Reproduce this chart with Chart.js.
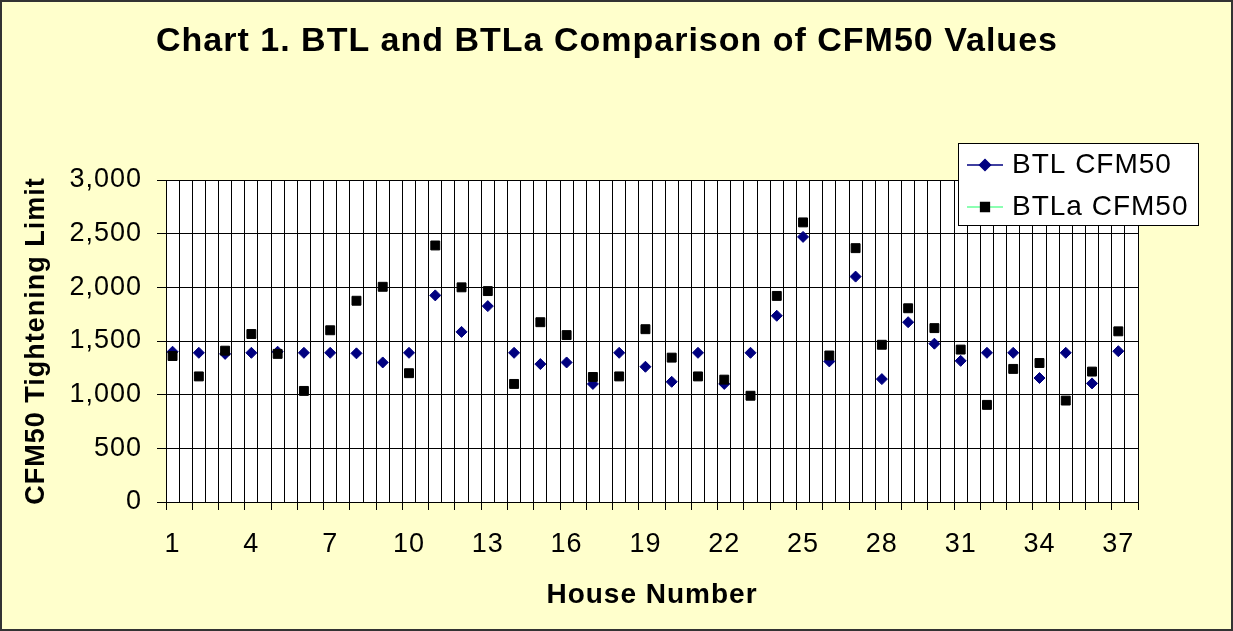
<!DOCTYPE html>
<html>
<head>
<meta charset="utf-8">
<script src="https://cdn.jsdelivr.net/npm/chart.js@4.4.1/dist/chart.umd.min.js"></script>
<style>
  html, body { margin: 0; padding: 0; background: #ffffcc; }
  canvas { display: block; }
</style>
</head>
<body>
<canvas id="cfmChart" width="1233" height="631"></canvas>
<script>
// house numbers on the x axis
const houses = [1, 2, 3, 4, 5, 6, 7, 8, 9, 10, 11, 12, 13, 14, 15, 16, 17, 18, 19,
  20, 21, 22, 23, 24, 25, 26, 27, 28, 29, 30, 31, 32, 33, 34, 35, 36, 37];

// CFM50 values
const btlCfm50 = [1400, 1390, 1380, 1390, 1400, 1390, 1390, 1385, 1300, 1390,
  1925, 1585, 1825, 1390, 1285, 1300, 1100, 1390, 1260, 1120,
  1390, 1100, 1390, 1735, 2470, 1310, 2100, 1145, 1675, 1475,
  1315, 1390, 1390, 1155, 1390, 1105, 1405];
const btlaCfm50 = [1360, 1170, 1410, 1565, 1380, 1035, 1600, 1875, 2005, 1200,
  2390, 2000, 1965, 1100, 1675, 1555, 1165, 1170, 1610, 1345,
  1170, 1140, 990, 1920, 2605, 1365, 2365, 1465, 1805, 1620,
  1420, 905, 1240, 1295, 945, 1215, 1590];

// labelled x ticks and y ticks
const xTickLabels = [1, 4, 7, 10, 13, 16, 19, 22, 25, 28, 31, 34, 37];
const yTicks = [0, 500, 1000, 1500, 2000, 2500, 3000];

const chartTitle = 'Chart 1. BTL and BTLa Comparison of CFM50 Values';

const FONT = "'Liberation Sans', Arial, sans-serif";
Chart.defaults.font.family = FONT;
Chart.defaults.color = '#000';

const xMin = houses[0] - 0.25;
const xMax = houses[houses.length - 1] + 0.75;
const isBoundary = v => Math.abs((v - xMin) % 1) < 1e-6;

// page background, plot background, outer border
const backdrop = {
  id: 'backdrop',
  beforeDraw(chart) {
    const { ctx, chartArea: a, width, height } = chart;
    ctx.save();
    ctx.fillStyle = '#ffffcc';
    ctx.fillRect(0, 0, width, height);
    ctx.fillStyle = '#ffffff';
    ctx.fillRect(a.left, a.top, a.right - a.left, a.bottom - a.top);
    ctx.strokeStyle = '#333';
    ctx.lineWidth = 2;
    ctx.strokeRect(1, 1, width - 2, height - 2);
    ctx.restore();
    ctx.letterSpacing = '1px';
  }
};

// title sits centred on the whole chart object, not on the plot
const excelTitle = {
  id: 'excelTitle',
  afterDraw(chart) {
    const { ctx } = chart;
    ctx.save();
    ctx.font = 'bold 34px ' + FONT;
    ctx.fillStyle = '#000';
    ctx.textAlign = 'center';
    ctx.textBaseline = 'middle';
    ctx.fillText(chartTitle, 607, 42);
    ctx.restore();
  }
};

// Excel style legend: line + marker, sitting over the top right of the plot
const excelLegend = {
  id: 'excelLegend',
  afterDraw(chart) {
    const { ctx, chartArea: a } = chart;
    const bx = a.right - 180, by = a.top - 37, bw = 240, bh = 82;
    ctx.save();
    ctx.fillStyle = '#fff';
    ctx.fillRect(bx, by, bw, bh);
    ctx.strokeStyle = '#000';
    ctx.lineWidth = 1;
    ctx.strokeRect(bx + 0.5, by + 0.5, bw, bh);
    const rows = [
      { text: 'BTL CFM50', line: '#000080', style: 'rectRot', radius: 5.5, fill: '#000080' },
      { text: 'BTLa CFM50', line: '#66ff99', style: 'rect', radius: 6.2, fill: '#000' }
    ];
    rows.forEach((r, i) => {
      const y = by + 22 + i * 42;
      ctx.strokeStyle = r.line;
      ctx.lineWidth = 1.5;
      ctx.beginPath();
      ctx.moveTo(bx + 9, y);
      ctx.lineTo(bx + 45, y);
      ctx.stroke();
      ctx.fillStyle = r.fill;
      ctx.strokeStyle = r.fill;
      Chart.helpers.drawPoint(ctx, { pointStyle: r.style, radius: r.radius, rotation: 0, borderWidth: 1 }, bx + 27, y);
      ctx.fillStyle = '#000';
      ctx.font = '28px ' + FONT;
      ctx.textBaseline = 'middle';
      ctx.textAlign = 'left';
      ctx.fillText(r.text, bx + 54, y);
    });
    ctx.restore();
  }
};

new Chart(document.getElementById('cfmChart'), {
  type: 'scatter',
  data: {
    datasets: [
      {
        label: 'BTL CFM50',
        data: houses.map((h, i) => ({ x: h, y: btlCfm50[i] })),
        pointStyle: 'rectRot',
        pointRadius: 5.5,
        pointBorderWidth: 1,
        backgroundColor: '#000080',
        borderColor: '#000080',
        order: 2
      },
      {
        label: 'BTLa CFM50',
        data: houses.map((h, i) => ({ x: h, y: btlaCfm50[i] })),
        pointStyle: 'rect',
        pointRadius: 6.3,
        pointBorderWidth: 1,
        backgroundColor: '#000',
        borderColor: '#000',
        order: 1
      }
    ]
  },
  options: {
    responsive: false,
    animation: false,
    devicePixelRatio: 1,
    layout: { padding: { left: 16, right: 95, top: 180, bottom: 15 } },
    plugins: {
      legend: { display: false },
      tooltip: { enabled: false },
      title: { display: false }
    },
    scales: {
      x: {
        type: 'linear',
        min: xMin,
        max: xMax,
        afterBuildTicks(scale) {
          const vals = [];
          for (let v = xMin; v <= xMax + 1e-9; v += 0.5) vals.push(v);
          xTickLabels.forEach(v => vals.push(v));
          vals.sort((p, q) => p - q);
          scale.ticks = vals.map(v => ({ value: v }));
        },
        afterFit(scale) { scale.height = 114; },
        ticks: {
          autoSkip: false,
          maxRotation: 0,
          padding: 18,
          font: { size: 27 },
          callback: v => xTickLabels.includes(v) ? String(v) : ''
        },
        grid: {
          color: c => (c.tick && xTickLabels.includes(c.tick.value)) ? 'rgba(0,0,0,0)' : '#000',
          tickColor: c => (c.tick && isBoundary(c.tick.value)) ? '#000' : 'rgba(0,0,0,0)',
          tickLength: 8,
          lineWidth: 1
        },
        border: { color: '#000', width: 1 },
        title: {
          display: true,
          text: 'House Number',
          font: { size: 28, weight: 'bold' },
          padding: { top: 4, bottom: 4 }
        }
      },
      y: {
        min: yTicks[0],
        max: yTicks[yTicks.length - 1],
        afterBuildTicks(scale) { scale.ticks = yTicks.map(v => ({ value: v })); },
        afterFit(scale) { scale.width = 150; },
        ticks: {
          padding: 15,
          font: { size: 27 },
          callback: v => v.toLocaleString('en-US')
        },
        grid: { color: '#000', tickLength: 9, lineWidth: 1 },
        border: { color: '#000', width: 1 },
        title: {
          display: true,
          text: 'CFM50 Tightening Limit',
          font: { size: 27, weight: 'bold' },
          padding: { top: 4, bottom: 4 }
        }
      }
    }
  },
  plugins: [backdrop, excelTitle, excelLegend]
});
</script>
</body>
</html>
